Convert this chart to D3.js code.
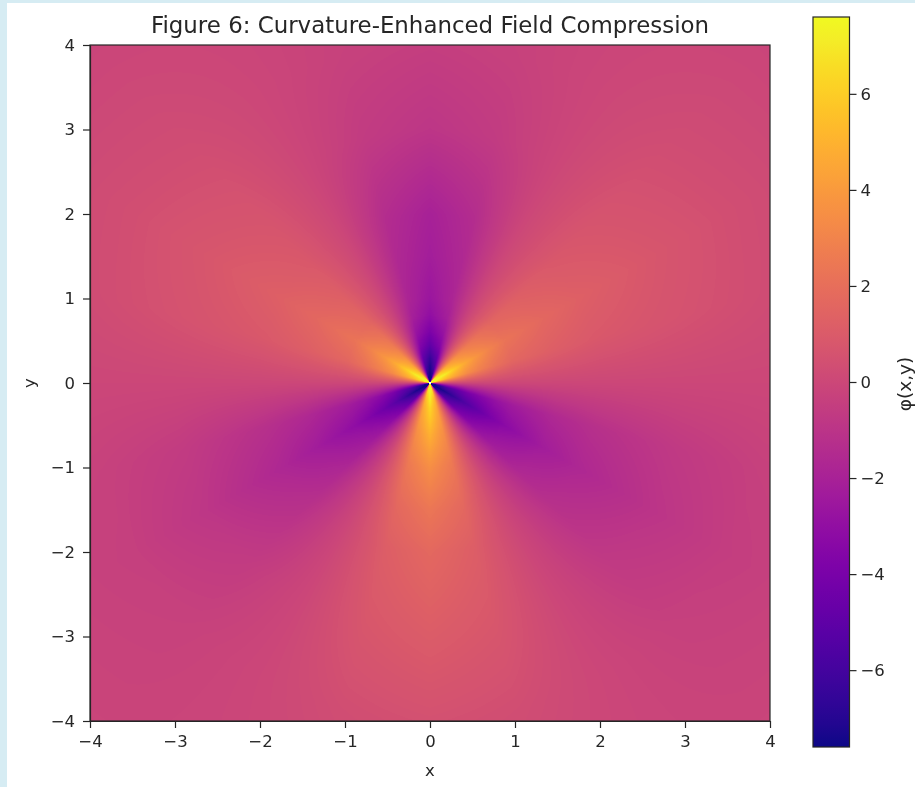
<!DOCTYPE html>
<html>
<head>
<meta charset="utf-8">
<style>
  html, body { margin: 0; padding: 0; background: #d6ecf3; overflow: hidden; }
  svg { display: block; font-family: "DejaVu Sans", sans-serif; filter: blur(0.4px); }
</style>
<script src="https://cdn.jsdelivr.net/npm/d3@7/dist/d3.min.js"></script>
</head>
<body>
<div id="canva"></div>
<script>
// values, one row per radius, one column per angle (degrees, ccw from +x)
const angles = d3.range(0, 360, 15);
const radii = [0.012, 0.05, 0.1, 0.2, 0.3, 0.45, 0.6, 0.8, 1, 1.5, 2, 3, 4, 5.7];
const phiRows = [
  [0, 7.6, 7.6, 7.6, 0, -7.6, -7.6, -7.6, 0, 7.6, 7.6, 7.6, 0, -7.6, -7.6, -7.6, 0, 7.6, 7.6, 7.6, 0, -7.6, -7.6, -7.6],
  [0, 7.6, 7.6, 7.6, 0, -7.6, -7.6, -7.6, 0, 7.6, 7.6, 7.6, 0, -7.6, -7.6, -7.6, 0, 7.6, 7.6, 7.6, 0, -7.6, -7.6, -7.6],
  [0, 6.6, 7.6, 6.6, 0, -6.8, -7.6, -6.8, 0, 6.6, 7.6, 6.6, 0, -6.8, -7.6, -6.8, 0, 6.6, 7.6, 6.6, 0, -6.8, -7.6, -6.8],
  [0, 5.2, 7.2, 5.1, 0, -5.6, -7.2, -5.6, 0, 5.1, 7.2, 5.2, 0, -5.6, -7.2, -5.5, 0, 5.1, 7.2, 5.0, 0, -5.6, -7.2, -5.6],
  [0, 4.4, 6.2, 4.3, 0, -4.9, -6.4, -4.9, 0, 4.3, 6.2, 4.4, 0, -5.0, -6.5, -5.0, 0, 4.5, 6.4, 4.5, 0, -5.1, -6.6, -5.1],
  [0, 3.4, 4.8, 3.4, 0, -3.6, -4.9, -3.6, 0, 3.4, 4.8, 3.4, 0, -3.9, -5.3, -3.9, 0, 4.0, 5.7, 4.0, 0, -4.1, -5.7, -4.1],
  [0, 2.8, 3.9, 2.7, 0, -2.8, -3.9, -2.8, 0, 2.7, 3.9, 2.8, 0, -3.2, -4.5, -3.2, 0, 3.5, 5.0, 3.5, 0, -3.5, -5.0, -3.5],
  [0, 2.1, 3.0, 2.1, 0, -2.1, -3.0, -2.1, 0, 2.1, 3.0, 2.1, 0, -2.6, -3.7, -2.6, 0, 3.0, 4.2, 3.0, 0, -2.8, -4.0, -2.8],
  [0, 1.6, 2.3, 1.6, 0, -1.8, -2.6, -1.8, 0, 1.6, 2.3, 1.6, 0, -2.2, -3.1, -2.2, 0, 2.5, 3.5, 2.5, 0, -2.3, -3.3, -2.3],
  [0, 1.2, 1.7, 1.2, 0, -1.6, -2.2, -1.6, 0, 1.2, 1.7, 1.2, 0, -1.6, -2.3, -1.6, 0, 1.7, 2.4, 1.7, 0, -1.6, -2.3, -1.6],
  [0, 0.9, 1.3, 0.9, 0, -1.4, -2.0, -1.4, 0, 0.9, 1.3, 0.9, 0, -1.2, -1.7, -1.2, 0, 1.2, 1.7, 1.2, 0, -1.2, -1.7, -1.2],
  [0, 0.6, 0.8, 0.6, 0, -0.6, -0.9, -0.6, 0, 0.6, 0.8, 0.6, 0, -0.6, -0.9, -0.6, 0, 0.8, 1.1, 0.8, 0, -0.7, -1.0, -0.7],
  [0, 0.3, 0.4, 0.3, 0, -0.3, -0.45, -0.3, 0, 0.3, 0.4, 0.3, 0, -0.3, -0.4, -0.3, 0, 0.35, 0.5, 0.35, 0, -0.35, -0.5, -0.35],
  [-0.1, -0.1, -0.1, -0.1, -0.1, -0.1, -0.1, -0.1, -0.1, -0.1, -0.1, -0.1, -0.1, -0.1, -0.1, -0.1, -0.1, -0.1, -0.1, -0.1, -0.1, -0.1, -0.1, -0.1]
];
const axisTicks = [-4, -3, -2, -1, 0, 1, 2, 3, 4];
const barTicks = [-6, -4, -2, 0, 2, 4, 6];
const phiExtent = [-7.6, 7.6];

const width = 915;
const height = 787;
const plot = { left: 90, right: 770, top: 45, bottom: 721 };
const bar = { left: 813, right: 849.5, top: 17, bottom: 747 };
const textColor = "#262626";

const x = d3.scaleLinear().domain([-4, 4]).range([plot.left, plot.right]);
const y = d3.scaleLinear().domain([-4, 4]).range([plot.bottom, plot.top]);
const yBar = d3.scaleLinear().domain(phiExtent).range([bar.bottom, bar.top]);
const color = d3.scaleSequential(d3.interpolatePlasma).domain(phiExtent);
const radiusIndex = d3.scaleLinear().domain(radii).range(d3.range(radii.length)).clamp(true);
const angleIndex = d3.scaleLinear().domain([0, 360]).range([0, angles.length]);

// same idea as a gouraud shaded pcolormesh: blend the four table values around each pixel
function phiAt(px, py) {
  const r = Math.hypot(px, py);
  let deg = Math.atan2(py, px) * 180 / Math.PI;
  if (deg < 0) deg += 360;
  const ri = radiusIndex(r);
  const r0 = Math.min(Math.floor(ri), radii.length - 2);
  const rt = ri - r0;
  const ai = angleIndex(deg);
  const a0 = Math.floor(ai) % angles.length;
  const a1 = (a0 + 1) % angles.length;
  const at = ai - Math.floor(ai);
  const inner = phiRows[r0][a0] * (1 - at) + phiRows[r0][a1] * at;
  const outer = phiRows[r0 + 1][a0] * (1 - at) + phiRows[r0 + 1][a1] * at;
  return inner * (1 - rt) + outer * rt;
}

function fieldImage() {
  const w = plot.right - plot.left;
  const h = plot.bottom - plot.top;
  const canvas = document.createElement("canvas");
  canvas.width = w;
  canvas.height = h;
  const ctx = canvas.getContext("2d");
  const img = ctx.createImageData(w, h);
  const levels = d3.range(1024).map(i => d3.rgb(color(phiExtent[0] + (phiExtent[1] - phiExtent[0]) * i / 1023)));
  const level = d3.scaleLinear().domain(phiExtent).range([0, 1023]).clamp(true);
  for (let j = 0; j < h; j++) {
    const py = y.invert(plot.top + j + 0.5);
    for (let i = 0; i < w; i++) {
      const px = x.invert(plot.left + i + 0.5);
      const k = (j * w + i) * 4;
      img.data[k + 3] = 255;
      if (Math.hypot(px, py) < radii[0]) {
        img.data[k] = img.data[k + 1] = img.data[k + 2] = 255;
        continue;
      }
      const c = levels[Math.round(level(phiAt(px, py)))];
      img.data[k] = c.r;
      img.data[k + 1] = c.g;
      img.data[k + 2] = c.b;
    }
  }
  ctx.putImageData(img, 0, 0);
  return canvas.toDataURL();
}

const svg = d3.select("#canva").append("svg")
  .attr("width", width)
  .attr("height", height)
  .attr("viewBox", [0, 0, width, height]);

svg.append("rect")
  .attr("x", 7)
  .attr("y", 3)
  .attr("width", width - 7)
  .attr("height", height - 3)
  .attr("fill", "#ffffff");

svg.append("image")
  .attr("x", plot.left)
  .attr("y", plot.top)
  .attr("width", plot.right - plot.left)
  .attr("height", plot.bottom - plot.top)
  .attr("href", fieldImage());

function styleAxis(g) {
  g.attr("font-size", "16.5px")
    .attr("font-family", "'DejaVu Sans', sans-serif");
  g.selectAll("text").attr("fill", textColor);
  g.selectAll("line").attr("stroke", textColor).attr("stroke-width", 1.2);
  g.select(".domain").attr("stroke", textColor).attr("stroke-width", 1.2);
}

svg.append("g")
  .attr("transform", `translate(0, ${plot.bottom})`)
  .call(d3.axisBottom(x).tickValues(axisTicks).tickSize(7).tickPadding(7).tickSizeOuter(0))
  .call(styleAxis);

svg.append("g")
  .attr("transform", `translate(${plot.left}, 0)`)
  .call(d3.axisLeft(y).tickValues(axisTicks).tickSize(7).tickPadding(8).tickSizeOuter(0))
  .call(styleAxis);

// remaining two sides of the frame
svg.append("rect")
  .attr("x", plot.left)
  .attr("y", plot.top)
  .attr("width", plot.right - plot.left)
  .attr("height", plot.bottom - plot.top)
  .attr("fill", "none")
  .attr("stroke", textColor)
  .attr("stroke-width", 1.2);

const barGradient = svg.append("defs").append("linearGradient")
  .attr("id", "bar-gradient")
  .attr("x1", 0).attr("y1", 1)
  .attr("x2", 0).attr("y2", 0);

barGradient.selectAll("stop")
  .data(d3.range(0, 1.0001, 1 / 32))
  .join("stop")
    .attr("offset", d => d)
    .attr("stop-color", d => d3.interpolatePlasma(d));

svg.append("rect")
  .attr("x", bar.left)
  .attr("y", yBar(phiExtent[1]))
  .attr("width", bar.right - bar.left)
  .attr("height", yBar(phiExtent[0]) - yBar(phiExtent[1]))
  .attr("fill", "url(#bar-gradient)")
  .attr("stroke", textColor)
  .attr("stroke-width", 1.2);

svg.append("g")
  .attr("transform", `translate(${bar.right}, 0)`)
  .call(d3.axisRight(yBar).tickValues(barTicks).tickSize(7).tickPadding(4).tickSizeOuter(0))
  .call(styleAxis)
  .call(g => g.select(".domain").remove());

svg.append("text")
  .attr("text-anchor", "middle")
  .attr("x", (plot.left + plot.right) / 2)
  .attr("y", 33)
  .attr("fill", textColor)
  .style("font-size", "22.9px")
  .text("Figure 6: Curvature-Enhanced Field Compression");

svg.append("text")
  .attr("text-anchor", "middle")
  .attr("x", (plot.left + plot.right) / 2)
  .attr("y", 776)
  .attr("fill", textColor)
  .style("font-size", "16.5px")
  .text("x");

svg.append("text")
  .attr("text-anchor", "middle")
  .attr("transform", `translate(35, ${(plot.top + plot.bottom) / 2}) rotate(-90)`)
  .attr("fill", textColor)
  .style("font-size", "16.5px")
  .text("y");

svg.append("text")
  .attr("text-anchor", "middle")
  .attr("transform", `translate(911, 384) rotate(-90)`)
  .attr("fill", textColor)
  .style("font-size", "18.5px")
  .text("φ(x,y)");
</script>
</body>
</html>
